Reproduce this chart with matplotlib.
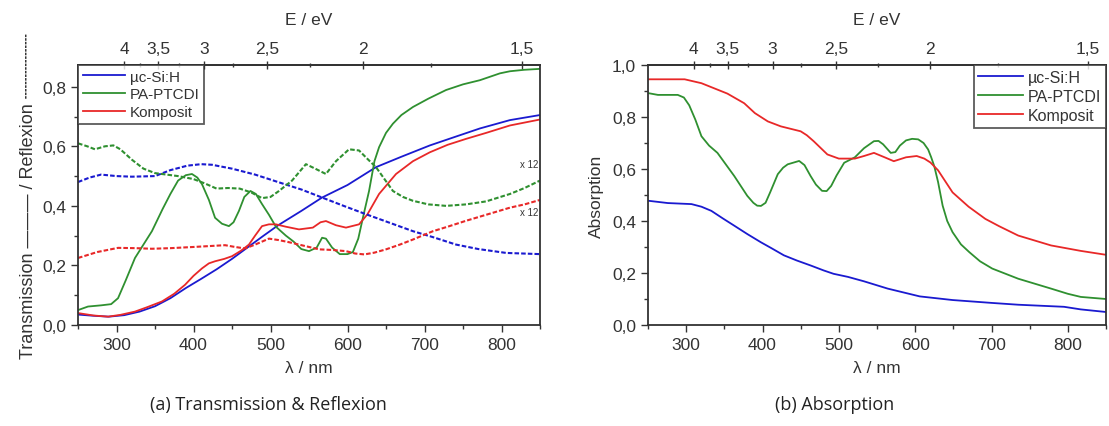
import numpy as np
import matplotlib
matplotlib.use('Agg')
import matplotlib.pyplot as plt
from matplotlib.ticker import FuncFormatter, MultipleLocator

plt.rcParams['font.family'] = ['Liberation Sans', 'DejaVu Sans']

# Transmission (durchgezogen)
wl_t_si = [250, 270, 290, 310, 330, 350, 370, 390, 410, 430, 450, 470, 490, 510, 540,
           567, 600, 637, 670, 707, 740, 772, 811, 850]
t_si = [0.035, 0.031, 0.028, 0.033, 0.045, 0.063, 0.09, 0.124, 0.155, 0.187, 0.222, 0.26,
        0.298, 0.335, 0.383, 0.428, 0.47, 0.53, 0.565, 0.603, 0.632, 0.66, 0.688, 0.705]

wl_t_pa = [250, 263, 280, 293, 302, 312, 324, 335, 346, 360, 370, 380, 390, 398, 405, 411,
           420, 428, 437, 446, 452, 459, 466, 474, 481, 489, 498, 507, 520, 530, 540, 550,
           560, 567, 572, 580, 590, 600, 607, 614, 620, 628, 635, 641, 650, 659, 670, 685,
           705, 728, 750, 772, 798, 811, 830, 850]
t_pa = [0.05, 0.062, 0.066, 0.07, 0.09, 0.15, 0.225, 0.27, 0.315, 0.39, 0.44, 0.485, 0.503,
        0.507, 0.495, 0.473, 0.42, 0.36, 0.34, 0.332, 0.345, 0.383, 0.43, 0.45, 0.44, 0.406,
        0.37, 0.33, 0.3, 0.28, 0.255, 0.248, 0.26, 0.293, 0.29, 0.26, 0.238, 0.238, 0.245,
        0.29, 0.36, 0.45, 0.55, 0.597, 0.645, 0.676, 0.705, 0.732, 0.76, 0.789, 0.808,
        0.822, 0.845, 0.852, 0.857, 0.86]

wl_t_ko = [250, 270, 289, 305, 324, 340, 359, 375, 389, 400, 411, 420, 428, 440, 450, 462,
           472, 480, 489, 498, 507, 520, 537, 555, 565, 572, 585, 598, 615, 626, 641, 663,
           685, 707, 730, 754, 780, 811, 850]
t_ko = [0.04, 0.032, 0.028, 0.034, 0.045, 0.06, 0.079, 0.105, 0.135, 0.165, 0.19, 0.207,
        0.214, 0.222, 0.231, 0.25, 0.27, 0.3, 0.332, 0.338, 0.338, 0.33, 0.321, 0.327, 0.345,
        0.349, 0.335, 0.327, 0.338, 0.372, 0.44, 0.507, 0.55, 0.58, 0.605, 0.625, 0.645,
        0.67, 0.69]

# Reflexion (gestrichelt)
wl_r_si = [250, 265, 280, 300, 320, 350, 370, 392, 410, 424, 450, 480, 511, 540, 567, 595,
           624, 655, 685, 711, 741, 770, 806, 850]
r_si = [0.48, 0.495, 0.505, 0.5, 0.498, 0.5, 0.52, 0.535, 0.54, 0.538, 0.525, 0.505, 0.479,
        0.455, 0.428, 0.4, 0.372, 0.343, 0.315, 0.295, 0.27, 0.255, 0.242, 0.238]

wl_r_pa = [250, 262, 272, 285, 296, 305, 320, 335, 350, 365, 380, 400, 415, 430, 445, 460,
           475, 489, 500, 511, 528, 546, 558, 572, 585, 602, 615, 625, 637, 648, 659, 672,
           685, 705, 728, 754, 780, 811, 830, 850]
r_pa = [0.61, 0.6, 0.59, 0.6, 0.603, 0.59, 0.555, 0.525, 0.51, 0.505, 0.5, 0.49, 0.475,
        0.458, 0.46, 0.458, 0.445, 0.426, 0.43, 0.45, 0.485, 0.54, 0.525, 0.507, 0.55, 0.59,
        0.586, 0.56, 0.53, 0.49, 0.45, 0.43, 0.417, 0.405, 0.4, 0.405, 0.415, 0.44, 0.46,
        0.485]

wl_r_ko = [250, 275, 302, 325, 346, 370, 400, 441, 454, 467, 480, 498, 511, 524, 537, 550,
           563, 580, 598, 610, 622, 635, 650, 668, 685, 711, 730, 754, 789, 811, 830, 850]
r_ko = [0.225, 0.245, 0.259, 0.258, 0.256, 0.258, 0.262, 0.268, 0.262, 0.257, 0.27, 0.29,
        0.285, 0.278, 0.27, 0.262, 0.254, 0.252, 0.248, 0.24, 0.237, 0.243, 0.254, 0.27,
        0.287, 0.315, 0.33, 0.35, 0.377, 0.394, 0.405, 0.42]

# Absorption
wl_a_si = [250, 276, 307, 320, 333, 348, 363, 380, 398, 412, 428, 445, 463, 480, 493, 512,
           533, 564, 606, 649, 700, 735, 795, 817, 850]
a_si = [0.478, 0.469, 0.465, 0.455, 0.439, 0.41, 0.382, 0.35, 0.318, 0.295, 0.268, 0.248,
        0.229, 0.21, 0.197, 0.185, 0.168, 0.14, 0.11, 0.096, 0.085, 0.078, 0.07, 0.06, 0.05]

wl_a_pa = [250, 263, 289, 297, 304, 312, 320, 330, 341, 363, 380, 388, 393, 398, 404, 410,
           420, 427, 433, 448, 455, 463, 470, 478, 484, 490, 497, 507, 521, 533, 546, 552,
           558, 568, 574, 580, 588, 596, 604, 611, 617, 621, 625, 630, 636, 642, 649, 660,
           671, 685, 701, 735, 778, 800, 817, 850]
a_pa = [0.892, 0.885, 0.885, 0.875, 0.845, 0.79, 0.726, 0.69, 0.662, 0.573, 0.497, 0.47,
        0.459, 0.458, 0.47, 0.51, 0.58, 0.605, 0.618, 0.631, 0.615, 0.573, 0.54, 0.516,
        0.515, 0.535, 0.575, 0.624, 0.645, 0.68, 0.707, 0.708, 0.695, 0.662, 0.665, 0.69,
        0.71, 0.716, 0.714, 0.70, 0.675, 0.645, 0.611, 0.55, 0.459, 0.4, 0.357, 0.31, 0.28,
        0.245, 0.217, 0.178, 0.14, 0.12, 0.108, 0.1]

wl_a_ko = [250, 298, 320, 354, 376, 390, 407, 424, 450, 458, 467, 485, 500, 521, 533, 546,
           560, 572, 588, 602, 612, 620, 630, 649, 670, 692, 710, 735, 778, 817, 850]
a_ko = [0.945, 0.945, 0.93, 0.89, 0.853, 0.815, 0.783, 0.764, 0.745, 0.73, 0.707, 0.656,
        0.64, 0.64, 0.65, 0.662, 0.645, 0.63, 0.645, 0.65, 0.64, 0.625, 0.595, 0.51, 0.455,
        0.408, 0.38, 0.344, 0.306, 0.285, 0.27]

labels = ['µc-Si:H', 'PA-PTCDI', 'Komposit']
colors = ['#1a1ad0', '#2f9030', '#e82828']
ev_ticks = [4, 3.5, 3, 2.5, 2, 1.5]
ev_minor = [3.75, 3.25, 2.75, 2.25, 1.75]
HC = 1239.84  # eV*nm


def comma(v, pos):
    s = '{:.1f}'.format(v) if abs(v - round(v)) > 1e-6 else '{:.0f}'.format(v)
    return s.replace('.', ',')


def comma1(v, pos):
    return '{:.1f}'.format(v).replace('.', ',')


def nm_to_ev(x):
    x = np.asarray(x, dtype=float)
    with np.errstate(divide='ignore'):
        return HC / x


def style_axis(ax, ymax):
    ax.set_xlim(250, 850)
    ax.set_ylim(0, ymax)
    ax.xaxis.set_major_locator(MultipleLocator(100))
    ax.xaxis.set_minor_locator(MultipleLocator(50))
    ax.yaxis.set_major_locator(MultipleLocator(0.2))
    ax.yaxis.set_minor_locator(MultipleLocator(0.1))
    ax.yaxis.set_major_formatter(FuncFormatter(comma1))
    ax.tick_params(which='both', direction='out', labelsize=12.5, color='#333333',
                   labelcolor='#333333', top=False, right=False)
    ax.tick_params(which='major', length=5, width=1)
    ax.tick_params(which='minor', length=3, width=1)
    for sp in ax.spines.values():
        sp.set_color('#333333')
        sp.set_linewidth(1.3)
    ax.set_xlabel('λ / nm', fontsize=12.5, color='#333333', labelpad=6)

    top = ax.secondary_xaxis('top', functions=(nm_to_ev, nm_to_ev))
    top.set_xticks(ev_ticks)
    top.set_xticks(ev_minor, minor=True)
    top.xaxis.set_major_formatter(FuncFormatter(comma))
    top.tick_params(which='both', direction='inout', labelsize=12.5, color='#333333',
                    labelcolor='#333333')
    top.tick_params(which='major', length=6, width=1)
    top.tick_params(which='minor', length=3, width=1)
    top.spines['top'].set_color('#333333')
    top.spines['top'].set_linewidth(1.3)
    top.set_xlabel('E / eV', fontsize=12.5, color='#333333', labelpad=12)


def add_legend(ax, loc, size):
    leg = ax.legend(loc=loc, fontsize=size, frameon=True, fancybox=False,
                    borderaxespad=0.0, handlelength=2.8, handletextpad=0.3,
                    labelspacing=0.25, borderpad=0.3)
    leg.get_frame().set_edgecolor('#333333')
    leg.get_frame().set_linewidth(1.3)
    for t in leg.get_texts():
        t.set_color('#333333')


fig = plt.figure(figsize=(11.09, 4.27), dpi=100)
ax1 = fig.add_axes([78 / 1109, 1 - 326 / 427, 462 / 1109, 260 / 427])
ax2 = fig.add_axes([648 / 1109, 1 - 326 / 427, 458 / 1109, 260 / 427])

dash = (0, (2.2, 1.0))
lw = 1.3

# (a) Transmission und Reflexion
for wl, v, c, lab in [(wl_t_si, t_si, colors[0], labels[0]),
                      (wl_t_pa, t_pa, colors[1], labels[1]),
                      (wl_t_ko, t_ko, colors[2], labels[2])]:
    ax1.plot(wl, v, color=c, lw=lw, label=lab)
for wl, v, c in [(wl_r_si, r_si, colors[0]),
                 (wl_r_pa, r_pa, colors[1]),
                 (wl_r_ko, r_ko, colors[2])]:
    ax1.plot(wl, v, color=c, lw=1.5, ls=dash)

ax1.text(848, 0.525, 'x 12', fontsize=7, color='#333333', ha='right', va='bottom')
ax1.text(848, 0.395, 'x 12', fontsize=7, color='#333333', ha='right', va='top')

style_axis(ax1, 0.873)
ax1.set_ylabel('Transmission ——— / Reflexion ┄┄┄┄┄┄', fontsize=13, color='#333333',
               labelpad=4, family=['Liberation Sans', 'DejaVu Sans'])
add_legend(ax1, 'upper left', 11)

# (b) Absorption
for wl, v, c, lab in [(wl_a_si, a_si, colors[0], labels[0]),
                      (wl_a_pa, a_pa, colors[1], labels[1]),
                      (wl_a_ko, a_ko, colors[2], labels[2])]:
    ax2.plot(wl, v, color=c, lw=lw, label=lab)

style_axis(ax2, 1.0)
ax2.set_ylabel('Absorption', fontsize=12.5, color='#333333', labelpad=6)
add_legend(ax2, 'upper right', 11.5)

fig.text(268 / 1109, 1 - 405 / 427, '(a) Transmission & Reflexion', fontsize=13,
         family='Open Sans', color='#222222', ha='center', va='center')
fig.text(835 / 1109, 1 - 405 / 427, '(b) Absorption', fontsize=13,
         family='Open Sans', color='#222222', ha='center', va='center')

fig.savefig('out.png', dpi=100)
